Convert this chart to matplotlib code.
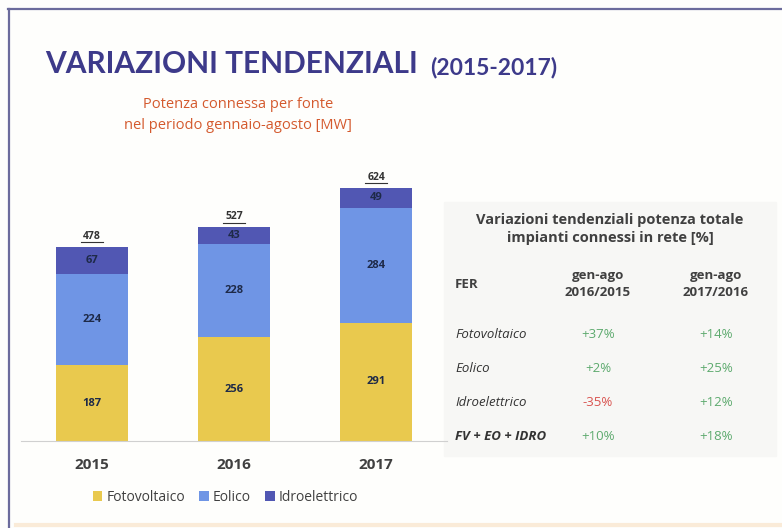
import numpy as np
import matplotlib.pyplot as plt
from matplotlib.patches import Rectangle
from matplotlib.lines import Line2D

plt.rcParams['font.family'] = ['Open Sans', 'DejaVu Sans']

years = ['2015', '2016', '2017']
fotovoltaico = [187, 256, 291]
eolico = [224, 228, 284]
idroelettrico = [67, 43, 49]
totals = [478, 527, 624]

series_names = ['Fotovoltaico', 'Eolico', 'Idroelettrico']
colors = ['#E9C94E', '#6F95E5', '#5157B3']

fer_rows = ['Fotovoltaico', 'Eolico', 'Idroelettrico', 'FV + EO + IDRO']
var_1615 = ['+37%', '+2%', '-35%', '+10%']
var_1716 = ['+14%', '+25%', '+12%', '+18%']

fig = plt.figure(figsize=(7.82, 5.28), dpi=100)
fig.patch.set_facecolor('#FEFEFC')

# frame lines of the slide
fig.add_artist(Line2D([8 / 782, 1], [1 - 9 / 528] * 2, color='#6B6B9C', lw=1.6))
fig.add_artist(Line2D([9 / 782] * 2, [0, 1 - 9 / 528], color='#6B6B9C', lw=1.6))
fig.add_artist(Line2D([0.02, 1], [3 / 528] * 2, color='#FAEBD8', lw=3))

# titles
fig.text(45 / 782, 1 - 64 / 528, 'VARIAZIONI TENDENZIALI', fontsize=21.5, color='#3D3A8A',
         va='center', ha='left', family=['Lato', 'DejaVu Sans'], fontweight='bold')
fig.text(430 / 782, 1 - 67 / 528, '(2015-2017)', fontsize=16.5, color='#3D3A8A',
         va='center', ha='left', family=['Lato', 'DejaVu Sans'], fontweight='bold')
fig.text(238 / 782, 1 - 115 / 528, 'Potenza connessa per fonte\nnel periodo gennaio-agosto [MW]',
         fontsize=10.5, color='#D45A2E', ha='center', va='center', linespacing=1.5)

# stacked bar chart
ax = fig.add_axes([21 / 782, 1 - 441 / 528, 426 / 782, 281 / 528])
ax.set_facecolor('none')
x = np.arange(len(years))
bottom = np.zeros(len(years))
for vals, name, c in zip([fotovoltaico, eolico, idroelettrico], series_names, colors):
    ax.bar(x, vals, width=0.51, bottom=bottom, color=c, label=name)
    for xi, b, v in zip(x, bottom, vals):
        ax.text(xi, b + v / 2, str(v), ha='center', va='center', fontsize=8,
                fontweight='bold', color='#1E2A48')
    bottom += np.array(vals)
for xi, t in zip(x, totals):
    ax.text(xi, t + 12, str(t), ha='center', va='bottom', fontsize=7.5,
            fontweight='bold', color='#333333')
    ax.plot([xi - 0.08, xi + 0.08], [t + 11, t + 11], color='#333333', lw=0.8)

ax.set_xlim(-0.5, 2.5)
ax.set_ylim(0, 692)
ax.set_yticks([])
ax.set_xticks(x)
ax.set_xticklabels(years, fontsize=11, fontweight='bold', color='#404040')
ax.tick_params(axis='x', length=0, pad=12)
for s in ['top', 'right', 'left']:
    ax.spines[s].set_visible(False)
ax.spines['bottom'].set_color('#D0D0D0')

ax.legend(loc='upper center', bbox_to_anchor=(0.48, -0.13), ncol=3, frameon=False,
          fontsize=10, handlelength=0.7, handleheight=0.7, handletextpad=0.3,
          columnspacing=1.0, labelcolor='#404040')

# table on the right
fig.add_artist(Rectangle((444 / 782, 1 - 456 / 528), 332 / 782, 254 / 528,
                         transform=fig.transFigure, color='#F7F7F5', zorder=0))
fig.text(610 / 782, 1 - 229 / 528,
         'Variazioni tendenziali potenza totale\nimpianti connessi in rete [%]',
         fontsize=10.5, fontweight='bold', color='#404040', ha='center', va='center',
         linespacing=1.4)
fig.text(455 / 782, 1 - 284 / 528, 'FER', fontsize=9.5, fontweight='bold',
         color='#404040', va='center')
fig.text(598 / 782, 1 - 284 / 528, 'gen-ago\n2016/2015', fontsize=9.5, fontweight='bold',
         color='#404040', ha='center', va='center', linespacing=1.4)
fig.text(716 / 782, 1 - 284 / 528, 'gen-ago\n2017/2016', fontsize=9.5, fontweight='bold',
         color='#404040', ha='center', va='center', linespacing=1.4)

row_y = [335, 368, 402, 436]
for i, (name, a, b) in zip(range(4), zip(fer_rows, var_1615, var_1716)):
    yy = 1 - row_y[i] / 528
    fig.text(455 / 782, yy, name, fontsize=9.5, style='italic', color='#333333',
             va='center', fontweight='bold' if i == 3 else 'normal')
    ca = '#D9534F' if a.startswith('-') else '#5DAA6E'
    cb = '#D9534F' if b.startswith('-') else '#5DAA6E'
    fig.text(598 / 782, yy, a, fontsize=9.5, color=ca, ha='center', va='center')
    fig.text(716 / 782, yy, b, fontsize=9.5, color=cb, ha='center', va='center')

fig.savefig('out.png', dpi=100, facecolor=fig.get_facecolor())
